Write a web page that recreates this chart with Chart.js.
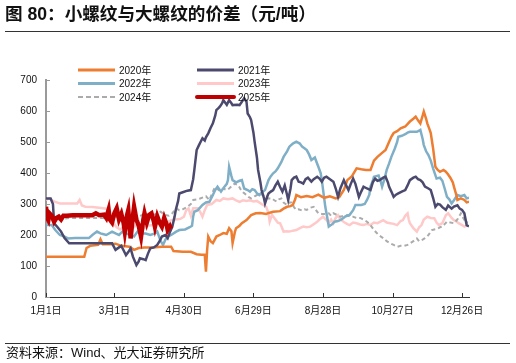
<!DOCTYPE html>
<html>
<head>
<meta charset="utf-8">
<script src="https://cdn.jsdelivr.net/npm/chart.js@4.4.1/dist/chart.umd.min.js"></script>
<style>
  body { margin: 0; background: #fff; }
  #wrap { position: relative; width: 516px; height: 363px; overflow: hidden;
          font-family: "Liberation Sans", "Noto Sans CJK SC", sans-serif; color: #111; }
  #c { position: absolute; left: 0; top: 0; }
  .title { position: absolute; left: 5px; top: 4px; font-size: 17.6px; line-height: 20px; font-weight: bold; }
  .rule { position: absolute; left: 5px; width: 505px; height: 1px; background: #333; }
  .src { position: absolute; left: 6px; top: 345px; font-size: 13px; line-height: 16px; }
</style>
</head>
<body>
<div id="wrap">
  <canvas id="c" width="516" height="363"></canvas>
  <div class="title">图 80：小螺纹与大螺纹的价差（元/吨）</div>
  <div class="rule" style="top:31px"></div>
  <div class="rule" style="top:343px"></div>
  <div class="src">资料来源：Wind、光大证券研究所</div>
</div>
<script>
// day of year (0 = 1月1日), spread in 元/吨
const xTickDays = [0, 59, 119, 179, 239, 299, 359];
const xTickLabels = ['1月1日', '3月1日', '4月30日', '6月29日', '8月28日', '10月27日', '12月26日'];
const seriesNames = ['2020年', '2021年', '2022年', '2023年', '2024年', '2025年'];

const s2020 = [[0,130],[33,130],[35,158],[38,165],[45,168],[47,186],[49,170],[55,170],[60,172],[65,165],[72,162],[76,152],[80,158],[85,160],[92,160],[100,162],[108,162],[110,148],[118,146],[125,146],[130,138],[134,136],[137,136],[138,82],[139,150],[140,195],[142,180],[144,174],[147,195],[150,200],[153,206],[156,204],[158,222],[160,212],[161,174],[163,210],[164,222],[167,230],[169,238],[173,248],[177,264],[181,270],[185,271],[190,268],[193,272],[196,275],[202,277],[205,285],[208,291],[211,293],[213,297],[215,315],[216,329],[220,322],[225,326],[230,322],[235,330],[240,320],[245,325],[250,318],[253,322],[257,345],[260,377],[264,390],[268,415],[272,412],[276,410],[280,410],[283,440],[286,452],[290,465],[293,474],[296,500],[298,517],[300,529],[303,535],[306,544],[310,550],[314,566],[317,575],[319,582],[321,570],[323,560],[325,585],[326,598],[328,575],[329,560],[331,540],[332,529],[334,480],[336,420],[338,410],[340,404],[343,410],[345,404],[347,395],[349,384],[351,370],[352,356],[354,330],[355,313],[358,318],[361,313],[363,305],[365,307]];

const s2021 = [[0,318],[4,318],[6,300],[7,238],[10,225],[13,211],[16,190],[20,173],[30,173],[40,173],[50,173],[57,173],[60,152],[63,160],[65,165],[67,150],[69,135],[71,145],[73,157],[75,130],[78,103],[80,115],[81,125],[84,122],[86,119],[88,140],[90,157],[93,160],[96,168],[98,180],[100,195],[103,200],[105,190],[107,210],[109,227],[111,260],[112,281],[114,310],[115,334],[118,338],[122,343],[125,345],[127,380],[128,410],[130,474],[132,490],[134,505],[135,512],[137,505],[138,515],[140,528],[142,545],[144,560],[146,585],[147,603],[149,610],[150,614],[152,625],[153,635],[155,625],[156,620],[158,635],[160,625],[161,619],[165,620],[167,619],[169,630],[171,641],[173,630],[174,592],[176,580],[177,571],[179,530],[180,501],[182,450],[183,410],[185,370],[186,345],[188,320],[189,302],[191,325],[192,334],[194,340],[196,345],[198,360],[200,372],[202,355],[204,340],[206,360],[208,330],[209,313],[211,350],[212,377],[214,385],[216,388],[218,372],[220,370],[222,366],[224,380],[226,385],[229,372],[231,380],[234,388],[236,382],[238,372],[240,385],[242,388],[245,380],[248,372],[250,350],[252,323],[254,350],[257,377],[259,360],[261,345],[263,365],[265,382],[267,365],[270,323],[272,340],[274,356],[277,350],[280,345],[282,370],[284,382],[286,375],[288,377],[291,385],[293,388],[295,370],[296,356],[298,340],[300,323],[302,330],[304,334],[307,340],[310,345],[312,360],[314,377],[317,385],[319,388],[321,380],[323,377],[325,370],[327,356],[330,350],[332,345],[334,320],[336,291],[338,300],[340,298],[342,290],[345,281],[347,295],[350,285],[352,292],[355,296],[357,285],[359,281],[361,270],[363,232],[365,228]];

const s2022 = [[0,232],[5,232],[8,216],[12,200],[16,195],[19,189],[25,190],[30,190],[37,190],[40,200],[44,211],[47,205],[49,203],[52,200],[57,211],[60,205],[63,200],[66,211],[69,205],[73,200],[76,195],[79,211],[83,205],[86,205],[90,200],[94,205],[96,211],[99,180],[101,168],[103,185],[105,195],[108,200],[112,210],[115,216],[120,218],[124,225],[126,230],[127,260],[128,275],[131,280],[135,297],[138,305],[141,307],[144,329],[146,345],[148,356],[151,340],[154,356],[156,365],[157,377],[158,420],[160,390],[161,377],[164,370],[167,375],[169,377],[171,350],[174,345],[176,340],[178,348],[180,345],[182,335],[184,329],[187,340],[189,345],[192,377],[194,390],[196,399],[198,405],[200,415],[203,435],[205,452],[208,470],[210,485],[213,495],[216,501],[219,495],[221,485],[223,480],[225,474],[227,460],[229,442],[232,450],[234,430],[235,420],[237,400],[238,377],[240,320],[241,291],[243,250],[244,227],[247,235],[249,243],[252,245],[255,250],[258,259],[260,262],[262,265],[265,280],[267,297],[270,297],[272,297],[275,300],[277,313],[279,330],[280,356],[282,375],[283,388],[285,390],[287,392],[289,370],[290,356],[292,380],[294,410],[296,430],[298,452],[300,470],[301,479],[303,500],[304,517],[307,520],[310,525],[312,530],[314,533],[317,533],[320,533],[322,537],[323,539],[325,510],[326,490],[328,470],[330,458],[332,440],[334,415],[337,382],[340,385],[342,375],[344,350],[346,323],[348,315],[350,302],[352,312],[355,329],[358,325],[361,329],[363,318],[365,320]];

const s2023 = [[0,313],[3,318],[6,310],[8,307],[12,302],[20,302],[27,302],[29,313],[31,295],[34,291],[40,290],[46,288],[52,285],[55,270],[58,240],[61,225],[64,218],[67,225],[70,216],[73,230],[76,226],[79,238],[82,232],[85,222],[88,230],[92,232],[96,238],[100,243],[104,240],[108,248],[112,250],[116,252],[119,259],[121,280],[123,286],[125,262],[127,286],[131,286],[133,275],[135,259],[137,280],[139,297],[143,300],[147,313],[150,310],[153,318],[157,315],[161,318],[164,312],[167,307],[170,312],[173,310],[176,312],[179,308],[182,310],[186,300],[190,291],[192,270],[193,243],[195,265],[197,255],[200,240],[202,238],[204,220],[205,211],[208,212],[210,211],[213,214],[216,216],[219,222],[222,227],[225,225],[228,227],[231,235],[234,243],[236,250],[239,259],[242,248],[244,238],[246,250],[248,238],[250,255],[252,264],[254,250],[257,242],[260,235],[262,232],[265,240],[268,238],[271,234],[274,232],[277,236],[280,232],[283,240],[286,238],[289,244],[291,248],[294,240],[297,238],[300,236],[303,232],[306,245],[308,248],[310,262],[312,270],[313,250],[314,238],[317,222],[320,211],[322,225],[324,232],[326,250],[329,259],[332,255],[335,254],[337,240],[339,232],[342,238],[345,264],[347,270],[350,255],[352,248],[354,244],[356,238],[359,232],[361,227],[363,230]];

const s2024 = [[0,232],[3,243],[6,248],[10,250],[15,252],[20,255],[30,255],[40,255],[50,255],[55,258],[60,260],[64,255],[68,264],[72,258],[76,264],[80,260],[84,266],[88,260],[92,264],[95,268],[99,275],[102,265],[106,262],[109,270],[112,286],[115,280],[118,283],[122,291],[125,300],[127,313],[130,315],[133,318],[136,322],[138,325],[141,313],[144,340],[146,356],[149,345],[153,350],[156,345],[158,350],[161,360],[163,366],[166,360],[169,340],[171,335],[173,329],[175,322],[177,318],[180,325],[182,329],[185,332],[187,330],[189,322],[192,318],[195,318],[197,312],[199,308],[201,315],[203,318],[205,305],[208,297],[210,305],[212,305],[214,290],[216,281],[218,283],[221,279],[223,283],[225,281],[228,288],[231,291],[233,280],[235,270],[238,268],[241,268],[244,270],[246,262],[248,270],[251,265],[254,259],[257,262],[260,264],[263,258],[265,259],[268,255],[271,255],[274,250],[277,243],[280,232],[283,216],[285,208],[287,200],[289,195],[291,190],[294,180],[297,173],[300,168],[303,162],[306,165],[309,165],[312,168],[314,173],[317,180],[320,189],[322,180],[325,185],[327,190],[329,195],[331,205],[333,216],[335,218],[338,220],[340,225],[342,227],[344,235],[346,243],[349,240],[352,238],[355,250],[358,270],[360,255],[362,243],[364,240]];

const s2025 = [[0,291],[1,255],[2,248],[3,270],[5,262],[7,243],[9,255],[11,259],[13,250],[15,262],[18,262],[23,264],[30,264],[35,264],[40,264],[43,270],[46,264],[50,266],[52,255],[54,281],[55,250],[57,240],[59,270],[61,286],[63,250],[65,268],[67,238],[68,211],[70,265],[71,280],[73,189],[75,260],[76,291],[78,250],[80,230],[82,195],[84,250],[85,270],[87,240],[89,265],[91,270],[93,245],[94,227],[96,260],[98,240],[100,227],[102,255],[104,235],[105,216],[107,228],[108,220]];

const seriesData = [s2020, s2021, s2022, s2023, s2024, s2025];
const colors = ['#ED7D31', '#4B4A6E', '#7FAFC7', '#FFC9C9', '#ABABAB', '#C00000'];
const widths = [2.5, 2.5, 2.5, 2.5, 2, 4.5];
const orders = [2, 1, 3, 5, 4, 0];

const FONT = '"Liberation Sans", "Noto Sans CJK SC", sans-serif';

// legend + inner tick marks
const extras = {
  id: 'extras',
  afterDraw(chart) {
    const ctx = chart.ctx;
    const area = chart.chartArea;
    const xs = chart.scales.x, ys = chart.scales.y;
    ctx.save();
    ctx.lineWidth = 1;
    ctx.strokeStyle = '#333';
    xs.ticks.forEach(t => {
      const px = Math.round(xs.getPixelForValue(t.value)) + 0.5;
      ctx.beginPath(); ctx.moveTo(px, area.bottom); ctx.lineTo(px, area.bottom - 4); ctx.stroke();
    });
    ctx.strokeStyle = '#999';
    ys.ticks.forEach(t => {
      const py = Math.round(ys.getPixelForValue(t.value)) + 0.5;
      ctx.beginPath(); ctx.moveTo(area.left, py); ctx.lineTo(area.left + 4, py); ctx.stroke();
    });

    ctx.font = '10px ' + FONT;
    ctx.textBaseline = 'middle';
    ctx.fillStyle = '#111';
    seriesNames.forEach((name, i) => {
      const col = i % 2, row = Math.floor(i / 2);
      const x0 = area.left + 32 + col * 119;
      const y = area.top - 10 + row * 13.5;
      ctx.beginPath();
      ctx.strokeStyle = colors[i];
      ctx.lineWidth = i === 5 ? 4 : (i === 4 ? 2 : 3);
      ctx.setLineDash(i === 4 ? [5, 3] : []);
      ctx.lineCap = i === 5 ? 'round' : 'butt';
      ctx.moveTo(x0, y); ctx.lineTo(x0 + 37, y); ctx.stroke();
      ctx.setLineDash([]);
      ctx.fillText(name, x0 + 41, y + 1);
    });
    ctx.restore();
  }
};

new Chart(document.getElementById('c'), {
  type: 'line',
  data: {
    datasets: seriesData.map((s, i) => ({
      label: seriesNames[i],
      data: s.map(p => ({ x: p[0], y: p[1] })),
      borderColor: colors[i],
      backgroundColor: colors[i],
      borderWidth: widths[i],
      borderDash: i === 4 ? [4, 3] : [],
      pointRadius: 0,
      tension: 0,
      order: orders[i]
    }))
  },
  options: {
    responsive: false,
    devicePixelRatio: 1,
    animation: false,
    events: [],
    layout: { padding: { left: 0, top: 80, right: 47, bottom: 36 } },
    plugins: { legend: { display: false }, tooltip: { enabled: false } },
    scales: {
      x: {
        type: 'linear',
        min: 0,
        max: 365,
        afterBuildTicks: scale => { scale.ticks = xTickDays.map(v => ({ value: v })); },
        afterFit: scale => { scale.height = 30; },
        grid: { drawOnChartArea: false, drawTicks: false },
        border: { color: '#333', width: 1 },
        ticks: {
          autoSkip: false, maxRotation: 0, padding: 8,
          color: '#111', font: { size: 10, family: FONT },
          callback: (v, i) => xTickLabels[i]
        }
      },
      y: {
        min: 0,
        max: 700,
        afterFit: scale => { scale.width = 46; },
        grid: { drawOnChartArea: false, drawTicks: false },
        border: { color: '#9a9a9a', width: 2 },
        ticks: { stepSize: 100, padding: 9, color: '#111', font: { size: 10, family: FONT } }
      }
    }
  },
  plugins: [extras]
});
</script>
</body>
</html>
